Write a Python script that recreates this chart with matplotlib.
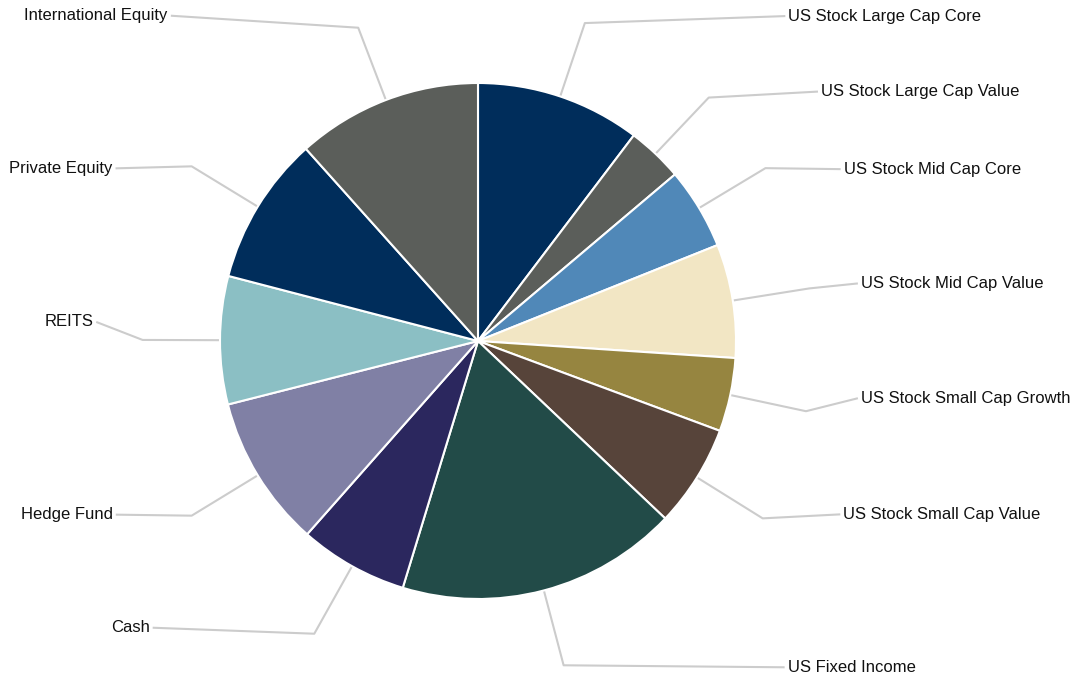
import numpy as np
import matplotlib
matplotlib.use("Agg")
import matplotlib.pyplot as plt

categories = ["US Stock Large Cap Core", "US Stock Large Cap Value", "US Stock Mid Cap Core",
              "US Stock Mid Cap Value", "US Stock Small Cap Growth", "US Stock Small Cap Value",
              "US Fixed Income", "Cash", "Hedge Fund", "REITS", "Private Equity",
              "International Equity"]
values = [10.3, 3.5, 5.1, 7.1, 4.6, 6.4, 17.6, 6.8, 9.5, 8.0, 9.3, 11.6]
colors = ["#002d5b", "#5b5e5a", "#5088b8", "#f2e6c4", "#968540", "#57443a",
          "#224b48", "#2b275e", "#8080a5", "#8bbfc4", "#002d5b", "#5b5e5a"]
# label nudges (pixels, positive = up) used to avoid overlap, as in the reference layout
label_nudge_px = [7, 6, -1, 5, 13, 4, -2, 6, 1, 18, -2, 12]

W, H = 1072, 680
cx, cy, R = 478, 341, 258

fig = plt.figure(figsize=(W / 100, H / 100), dpi=100)
ax = fig.add_axes([0, 0, 1, 1])

wedges, _ = ax.pie(values, colors=colors, startangle=90, counterclock=False,
                   radius=1.0, wedgeprops=dict(edgecolor="white", linewidth=1.5))

ax.set_xlim(-cx / R, (W - cx) / R)
ax.set_ylim(-(H - cy) / R, cy / R)
ax.set_aspect("equal")
ax.axis("off")

fam = ["Liberation Sans Narrow", "Liberation Sans", "DejaVu Sans"]
a_lab, b_lab = 385 / R, 549 / R
for w, lab, nd in zip(wedges, categories, label_nudge_px):
    ang = np.deg2rad((w.theta1 + w.theta2) / 2)
    x0, y0 = np.cos(ang), np.sin(ang)
    xe, ye = 1.3 * x0, 1.3 * y0
    yt = ye + nd / R
    xl = a_lab * np.sqrt(max(0.0, 1 - (yt / b_lab) ** 2))
    if x0 >= 0:
        xt = xl
        ha = "left"
        xline = xt - 3 / R
    else:
        xt = -xl
        ha = "right"
        xline = xt + 3 / R
    ax.plot([x0, xe, xline], [y0, ye, yt], color="#cccccc", lw=1.5, zorder=0,
            solid_capstyle="butt")
    ax.text(xt, yt, lab, ha=ha, va="center", fontsize=12, family=fam, color="#111111")

fig.savefig("out.png", dpi=100)
